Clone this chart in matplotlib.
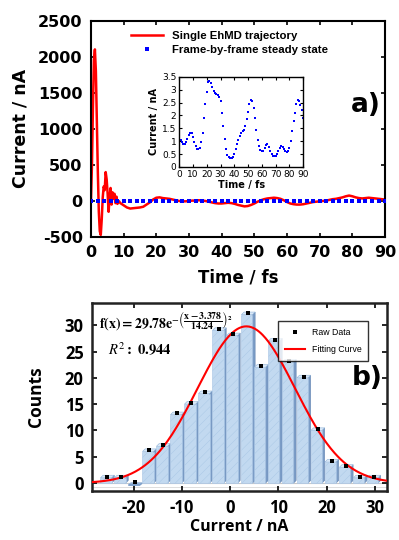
import matplotlib
matplotlib.use('Agg')
import matplotlib.pyplot as plt
import numpy as np

# ---- panel a data ----
t_traj = [0, 0.3, 0.6, 0.9, 1.2, 1.5, 1.8, 2.1, 2.4, 2.7, 3.0, 3.3, 3.6, 3.9, 4.2, 4.5,
          4.8, 5.1, 5.4, 5.7, 6.0, 6.3, 6.6, 6.9, 7.2, 7.5, 7.8, 8.1, 8.5, 9, 10, 11,
          12, 13, 14, 15, 16, 17, 18, 19] + list(range(20, 91))
i_traj = [0, 500, 1300, 1950, 2100, 1800, 1100, 400, -150, -420, -470, -250, 50, 200, 150, 400,
          300, 100, -150, 50, 180, -50, 120, 30, 100, -30, 60, -40, 0, -30, -60, -90,
          -105, -100, -95, -90, -80, -50, -20, 20,
          45, 50, 40, 35, 30, 20, 10, 0, -5, -5,
          0, 5, 5, 10, 5, 0, -10, -20, -30, -35,
          -35, -30, -25, -30, -40, -55, -65, -75, -70, -55,
          -35, -10, 10, 25, 35, 40, 45, 40, 30, 10,
          -15, -35, -45, -50, -50, -45, -35, -25, -15, -10,
          -5, 0, 5, 15, 25, 30, 40, 50, 65, 75,
          65, 50, 40, 35, 40, 45, 40, 35, 30, 25, 20]

t_ss = list(range(0, 91))
i_ss = [1.20, 1.05, 0.95, 0.90, 0.90, 0.98, 1.10, 1.25, 1.32, 1.30,
        1.15, 0.95, 0.80, 0.70, 0.68, 0.75, 0.95, 1.30, 1.90, 2.45,
        2.90, 3.30, 3.35, 3.25, 3.10, 2.95, 2.88, 2.82, 2.78, 2.72,
        2.55, 2.10, 1.60, 1.10, 0.70, 0.45, 0.37, 0.35, 0.35, 0.38,
        0.50, 0.70, 0.90, 1.05, 1.20, 1.30, 1.38, 1.45, 1.60, 1.85,
        2.15, 2.45, 2.60, 2.55, 2.30, 1.90, 1.45, 1.05, 0.80, 0.65,
        0.60, 0.62, 0.72, 0.85, 0.88, 0.78, 0.62, 0.50, 0.44, 0.42,
        0.44, 0.50, 0.60, 0.72, 0.80, 0.78, 0.68, 0.60, 0.58, 0.60,
        0.72, 1.00, 1.40, 1.80, 2.10, 2.45, 2.60, 2.55, 2.40, 2.20, 1.90]

# ---- panel b data ----
bin_centers = [-25.7, -22.8, -19.9, -17.0, -14.1, -11.2, -8.3, -5.4, -2.5, 0.4,
               3.5, 6.2, 9.1, 12.0, 15.0, 17.9, 20.8, 23.8, 26.7, 29.5]
counts = [1, 1, 0, 6, 7, 13, 15, 17, 29, 28, 32, 22, 27, 23, 20, 10, 4, 3, 1, 1]
fit_a, fit_mu, fit_s = 29.78, 3.378, 14.24

plt.rcParams['mathtext.fontset'] = 'stix'
plt.rcParams['axes.unicode_minus'] = False
plt.rcParams['hatch.linewidth'] = 0.3

fig = plt.figure(figsize=(3.99, 5.4), dpi=100)

# ================= panel a =================
ax1 = fig.add_axes([0.228, 0.561, 0.737, 0.401])
ax1.plot(t_traj, i_traj, color='red', lw=1.8, label='Single EhMD trajectory', zorder=2)
ax1.plot(t_ss[::2], i_ss[::2], 's', color='blue', ms=3.2, mew=0,
         label='Frame-by-frame steady state', zorder=3)
ax1.set_xlim(0, 90)
ax1.set_ylim(-500, 2500)
ax1.set_xticks(range(0, 91, 10))
ax1.set_yticks(range(-500, 2501, 500))
ax1.tick_params(direction='in', top=True, right=True, length=3, width=1.2, pad=6)
for lab in ax1.get_xticklabels() + ax1.get_yticklabels():
    lab.set_fontfamily('DejaVu Sans')
    lab.set_fontweight('bold')
    lab.set_fontsize(11.5)
for s in ax1.spines.values():
    s.set_linewidth(1.5)
ax1.set_xlabel('Time / fs', fontsize=12, fontweight='bold', labelpad=6)
ax1.set_ylabel('Current / nA', fontsize=12.5, fontweight='bold', labelpad=6)
leg1 = ax1.legend(loc='upper left', bbox_to_anchor=(0.1, 1.0), frameon=False,
                  prop={'family': 'Liberation Sans', 'weight': 'bold', 'size': 8.2},
                  handlelength=2.8, labelspacing=0.35, markerscale=0.9)
ax1.text(0.985, 0.61, 'a)', transform=ax1.transAxes, ha='right', va='center',
         fontsize=19, fontweight='bold', family='DejaVu Sans')

# inset
axi = fig.add_axes([0.449, 0.691, 0.311, 0.1667])
axi.plot(t_ss, i_ss, 's', color='blue', ms=1.9, mew=0)
axi.set_xlim(0, 90)
axi.set_ylim(0, 3.5)
axi.set_xticks(range(0, 91, 10))
axi.set_yticks(np.arange(0, 3.51, 0.5))
axi.set_yticklabels(['0', '0.5', '1', '1.5', '2', '2.5', '3', '3.5'])
axi.tick_params(direction='in', top=True, right=True, length=2, width=0.8,
                labelsize=6.5, pad=2)
for s in axi.spines.values():
    s.set_linewidth(1.0)
axi.set_xlabel('Time / fs', fontsize=7, fontweight='bold', labelpad=1)
axi.set_ylabel('Current / nA', fontsize=7, fontweight='bold', labelpad=2)

# ================= panel b =================
ax2 = fig.add_axes([0.2306, 0.0907, 0.739, 0.348])
w = 2.3
dx, dy = 0.55, 0.5
ax2.axhline(0, color='#c8c8c8', lw=0.8, zorder=0)
ax2.axhline(-0.7, color='#d8d8d8', lw=0.6, zorder=0)
for x, c in zip(bin_centers, counts):
    if c <= 0:
        ax2.fill([x - w / 2, x + w / 2, x + w / 2 + dx, x - w / 2 + dx],
                 [-0.4, -0.4, 0, 0], color='#7d9fc9', zorder=1)
        continue
    ax2.fill([x + w / 2, x + w / 2 + dx, x + w / 2 + dx, x + w / 2],
             [0, dy, c + dy, c], facecolor='#7b9cc6', edgecolor='#5f82b0', lw=0.4, zorder=1)
    ax2.fill([x - w / 2, x - w / 2 + dx, x + w / 2 + dx, x + w / 2],
             [c, c + dy, c + dy, c], facecolor='#dbe9f7', edgecolor='#8fb3d9', lw=0.4, zorder=1)
ax2.bar(bin_centers, counts, width=w, facecolor='#c2d9f0', edgecolor='#a8c5e5',
        hatch='////', lw=0.4, zorder=2)
ax2.plot(np.array(bin_centers) + dx / 2, np.array(counts) + dy / 2, 's', color='black',
         ms=3, mew=0, zorder=4, label='Raw Data')
xf = np.linspace(-28.6, 32.5, 300)
ax2.plot(xf, fit_a * np.exp(-((xf - fit_mu) / fit_s) ** 2), color='red', lw=1.5,
         zorder=3, label='Fitting Curve')
ax2.set_xlim(-28.6, 32.5)
ax2.set_ylim(-1.5, 34.2)
ax2.set_xticks(range(-20, 31, 10))
ax2.set_yticks(range(0, 31, 5))
ax2.tick_params(direction='in', top=True, right=True, length=3.5, width=1.2, pad=6)
for lab in ax2.get_xticklabels() + ax2.get_yticklabels():
    lab.set_fontfamily('Open Sans')
    lab.set_fontweight('bold')
    lab.set_fontsize(12)
for s in ax2.spines.values():
    s.set_linewidth(1.8)
    s.set_color('#222222')
ax2.set_xlabel('Current / nA', fontsize=11.5, fontweight='bold', family='Open Sans', labelpad=1.5)
ax2.set_ylabel('Counts', fontsize=12.5, fontweight='bold', family='Open Sans', labelpad=14)
leg2 = ax2.legend(loc='upper right', bbox_to_anchor=(0.952, 0.93), frameon=True,
                  fancybox=False, edgecolor='black',
                  prop={'family': 'Liberation Sans', 'size': 6.3},
                  handlelength=2.2, labelspacing=1.0, borderpad=0.8)
leg2.get_frame().set_linewidth(1.0)
ax2.text(0.025, 0.9, r'$\mathbf{f(x) = 29.78e}^{-\left(\dfrac{\mathbf{x-3.378}}{\mathbf{14.24}}\right)^{\mathbf{2}}}$',
         transform=ax2.transAxes, ha='left', va='center', fontsize=10)
ax2.text(0.055, 0.75, r'$R^{2}\mathbf{:\ 0.944}$', transform=ax2.transAxes,
         ha='left', va='center', fontsize=10.5)
ax2.text(0.985, 0.6, 'b)', transform=ax2.transAxes, ha='right', va='center',
         fontsize=19, fontweight='bold', family='DejaVu Sans')

fig.savefig('out.png', dpi=100)
